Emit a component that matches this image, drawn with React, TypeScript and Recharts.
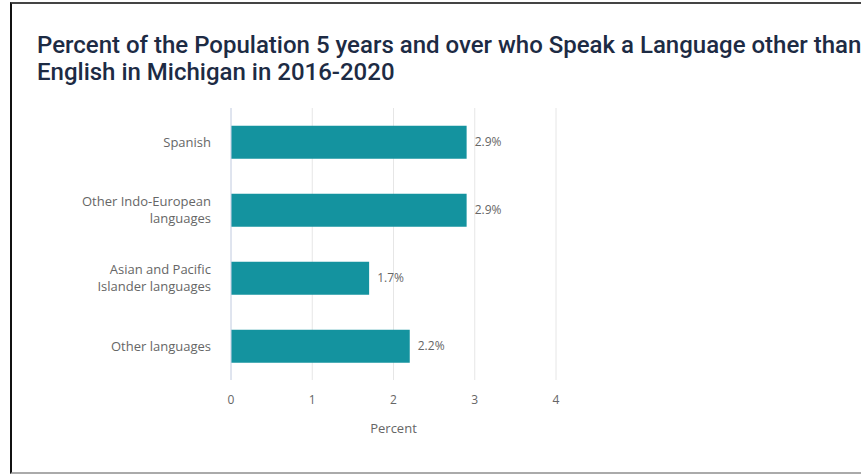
import { BarChart, Bar, XAxis, YAxis, CartesianGrid, LabelList } from 'recharts'

const CATEGORIES = ['Spanish', 'Other Indo-European languages', 'Asian and Pacific Islander languages', 'Other languages']
const PERCENTS = [2.9, 2.9, 1.7, 2.2]
const X_TICKS = [0, 1, 2, 3, 4]

// how each category label is split over lines
const LABEL_LINES: Record<string, string[]> = {
  'Spanish': ['Spanish'],
  'Other Indo-European languages': ['Other Indo-European', 'languages'],
  'Asian and Pacific Islander languages': ['Asian and Pacific', 'Islander languages'],
  'Other languages': ['Other languages'],
}

const BAR_COLOUR = '#14939f'
const LABEL_FONT = '"Open Sans", sans-serif'

const data = CATEGORIES.map((c, i) => ({ name: c, value: PERCENTS[i] }))

function CategoryTick({ x, y, payload }: any) {
  const lines = LABEL_LINES[payload.value] ?? [payload.value]
  const lh = 17
  const start = -((lines.length - 1) * lh) / 2
  return (
    <text x={x} y={y} textAnchor="end" fill="#666" fontSize={13} fontFamily={LABEL_FONT}>
      {lines.map((l, i) => (
        <tspan key={i} x={x} dy={i === 0 ? start + 4.5 : lh}>{l}</tspan>
      ))}
    </text>
  )
}

export default function App() {
  return (
    <div style={{ position: 'absolute', left: 0, top: 0, width: 861, height: 474, overflow: 'hidden', background: '#fff' }}>
      {/* frame */}
      <div
        style={{
          position: 'absolute', left: 10, top: 2, width: 900, height: 468,
          borderLeft: '2px solid #111', borderTop: '2px solid #444', borderBottom: '2px solid #aaa',
        }}
      />
      <div
        style={{
          position: 'absolute', left: 37, top: 32, whiteSpace: 'nowrap',
          fontFamily: 'Roboto, sans-serif', fontWeight: 500, fontSize: 24, lineHeight: '27px', color: '#1d2b44',
        }}
      >
        Percent of the Population 5 years and over who Speak a Language other than
        <br />
        English in Michigan in 2016-2020
      </div>
      <div style={{ position: 'absolute', left: 0, top: 0 }}>
        <BarChart
          width={861}
          height={474}
          data={data}
          layout="vertical"
          margin={{ top: 108, right: 305, bottom: 40, left: 0 }}
          barCategoryGap="26%"
        >
          <CartesianGrid horizontal={false} stroke="#e6e6e6" />
          <XAxis
            type="number"
            domain={[0, 4]}
            ticks={X_TICKS}
            axisLine={false}
            tickLine={false}
            tickMargin={9}
            height={54}
            tick={{ fill: '#666', fontSize: 12, fontFamily: LABEL_FONT }}
            label={{ value: 'Percent', position: 'insideBottom', offset: 1, fill: '#666', fontSize: 13, fontFamily: LABEL_FONT }}
          />
          <YAxis
            type="category"
            dataKey="name"
            width={231}
            axisLine={{ stroke: '#ccd6eb' }}
            tickLine={false}
            tickMargin={14}
            tick={<CategoryTick />}
          />
          <Bar dataKey="value" fill={BAR_COLOUR} isAnimationActive={false}>
            <LabelList
              dataKey="value"
              position="right"
              offset={8}
              formatter={(v: any) => `${v}%`}
              fill="#666"
              fontSize={12}
              fontFamily={LABEL_FONT}
            />
          </Bar>
        </BarChart>
      </div>
    </div>
  )
}
